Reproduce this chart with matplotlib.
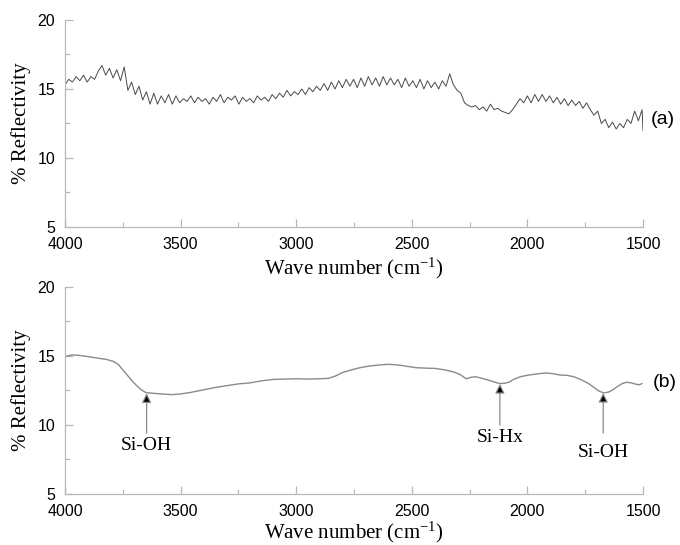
import numpy as np
import matplotlib
matplotlib.use('Agg')
import matplotlib.pyplot as plt
from matplotlib.ticker import MultipleLocator

plt.rcParams['mathtext.fontset'] = 'custom'
plt.rcParams['mathtext.rm'] = 'Liberation Serif'
plt.rcParams['mathtext.it'] = 'Liberation Serif:italic'

# spectrum (a): wave number grid every 16 cm-1, plus the last point at 1500
wave_a = np.append(np.arange(4000, 1503, -16), 1500)
refl_a = [15.3, 15.7, 15.5, 15.9, 15.6, 16.0, 15.5, 15.9, 15.7, 16.3,
          16.7, 16.0, 16.5, 15.8, 16.4, 15.6, 16.6, 14.9, 15.5, 14.6,
          15.2, 14.2, 14.8, 13.9, 14.7, 13.9, 14.5, 14.0, 14.6, 13.9,
          14.5, 14.0, 14.3, 14.1, 14.5, 14.0, 14.4, 14.1, 14.3, 13.9,
          14.4, 14.1, 14.6, 14.0, 14.4, 14.2, 14.5, 13.9, 14.4, 14.1,
          14.3, 14.0, 14.5, 14.2, 14.4, 14.1, 14.6, 14.3, 14.7, 14.4,
          14.9, 14.5, 14.8, 14.6, 15.0, 14.6, 15.1, 14.8, 15.2, 14.9,
          15.4, 14.9, 15.5, 15.0, 15.6, 15.1, 15.7, 15.2, 15.7, 15.1,
          15.8, 15.2, 15.9, 15.3, 15.8, 15.2, 15.9, 15.3, 15.8, 15.3,
          15.7, 15.1, 15.8, 15.2, 15.6, 15.1, 15.7, 15.0, 15.6, 15.1,
          15.5, 15.0, 15.6, 15.2, 16.1, 15.3, 14.9, 14.7, 14.0, 13.8,
          13.7, 13.8, 13.5, 13.7, 13.4, 13.9, 13.5, 13.6, 13.4, 13.3,
          13.2, 13.5, 13.9, 14.3, 14.0, 14.5, 14.0, 14.6, 14.1, 14.6,
          14.1, 14.5, 14.0, 14.4, 13.9, 14.3, 13.8, 14.2, 13.8, 14.1,
          13.6, 14.0, 13.5, 13.1, 13.4, 12.5, 12.8, 12.2, 12.6, 12.1,
          12.5, 12.2, 12.8, 12.5, 13.4, 12.7, 13.5, 12.0]

# spectrum (b)
wave_b = [4000, 3970, 3940, 3900, 3860, 3820, 3790, 3770, 3750, 3730,
          3710, 3690, 3670, 3650, 3620, 3580, 3540, 3500, 3460, 3400,
          3350, 3300, 3250, 3200, 3150, 3100, 3050, 3000, 2950, 2900,
          2860, 2830, 2800, 2760, 2720, 2680, 2640, 2600, 2560, 2520,
          2480, 2440, 2400, 2360, 2320, 2290, 2265, 2245, 2225, 2200,
          2175, 2150, 2120, 2100, 2080, 2060, 2030, 2000, 1960, 1920,
          1890, 1860, 1830, 1800, 1770, 1740, 1710, 1690, 1670, 1650,
          1630, 1610, 1590, 1570, 1550, 1530, 1515, 1505]
refl_b = [14.95, 15.08, 15.05, 14.95, 14.85, 14.75, 14.6, 14.4, 14.0, 13.6,
          13.2, 12.85, 12.55, 12.35, 12.3, 12.25, 12.2, 12.25, 12.35, 12.55,
          12.72, 12.85, 12.98, 13.05, 13.2, 13.3, 13.33, 13.35, 13.33, 13.35,
          13.38, 13.55, 13.8, 14.0, 14.17, 14.28, 14.35, 14.4, 14.35, 14.25,
          14.15, 14.12, 14.1, 14.0, 13.85, 13.65, 13.35, 13.45, 13.5, 13.4,
          13.28, 13.15, 13.0, 13.02, 13.1, 13.3, 13.5, 13.6, 13.7, 13.77,
          13.72, 13.62, 13.6, 13.5, 13.3, 13.05, 12.7, 12.45, 12.33, 12.38,
          12.55, 12.8, 13.0, 13.1, 13.05, 12.95, 12.92, 13.0]

# peak marks on (b): label, position, arrow tip, arrow tail, text height
peak_labels = ['Si-OH', 'Si-Hx', 'Si-OH']
peak_wave = [3647, 2119, 1672]
peak_tip = [12.3, 12.98, 12.33]
peak_tail = [9.42, 10.0, 9.42]
peak_text_y = [8.48, 9.06, 8.0]

spine_col = '#b8b8b8'

fig = plt.figure(figsize=(6.8, 5.45), dpi=100)
ax_a = fig.add_axes([0.0956, 0.5835, 0.85, 0.3798])
ax_b = fig.add_axes([0.0956, 0.0936, 0.85, 0.3798])

ax_a.plot(wave_a, refl_a, color='#4a4a4a', lw=0.7)
ax_b.plot(wave_b, refl_b, color='#8a8a8a', lw=1.0)

for ax in (ax_a, ax_b):
    ax.set_xlim(4000, 1500)
    ax.set_ylim(5, 20)
    ax.xaxis.set_major_locator(MultipleLocator(500))
    ax.xaxis.set_minor_locator(MultipleLocator(250))
    ax.yaxis.set_major_locator(MultipleLocator(5))
    ax.yaxis.set_minor_locator(MultipleLocator(2.5))
    for s in ['top', 'right']:
        ax.spines[s].set_visible(False)
    for s in ['left', 'bottom']:
        ax.spines[s].set_color(spine_col)
        ax.spines[s].set_linewidth(0.9)
    ax.tick_params(which='both', direction='in', color=spine_col, width=0.9)
    ax.tick_params(which='major', length=6, labelsize=11.5, pad=7)
    ax.tick_params(which='minor', length=3.5)
    for lab in ax.get_xticklabels() + ax.get_yticklabels():
        lab.set_fontfamily('Liberation Sans')
    ax.set_ylabel('% Reflectivity', family='Liberation Serif', fontsize=15, labelpad=5)

ax_a.set_xlabel('Wave number (cm$^{-1}$)', family='Liberation Serif', fontsize=15, labelpad=3)
ax_b.set_xlabel('Wave number (cm$^{-1}$)', family='Liberation Serif', fontsize=15, labelpad=1)

ax_a.text(1413, 12.8, '(a)', family='Liberation Sans', fontsize=14, ha='center', va='center', clip_on=False)
ax_b.text(1405, 13.05, '(b)', family='Liberation Sans', fontsize=14, ha='center', va='center', clip_on=False)

for lab, wx, tip, tail, ty in zip(peak_labels, peak_wave, peak_tip, peak_tail, peak_text_y):
    ax_b.annotate('', xy=(wx, tip), xytext=(wx, tail),
                  arrowprops=dict(arrowstyle='-|>', fc='black', ec='#8a8a8a', lw=0.9,
                                  mutation_scale=14, shrinkA=0, shrinkB=0))
    ax_b.text(wx, ty, lab, family='Liberation Serif', fontsize=14, ha='center', va='center')

fig.savefig('out.png', dpi=100)
